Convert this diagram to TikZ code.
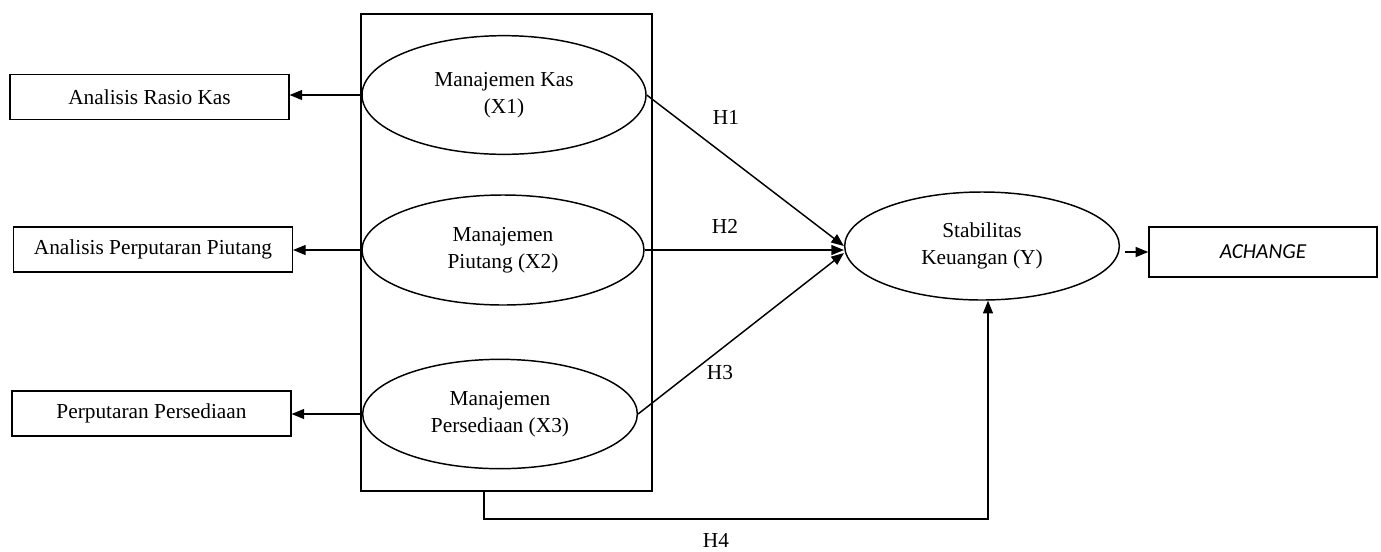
\documentclass[tikz,border=0pt]{standalone}
\usepackage{fontspec}
\setmainfont{Liberation Serif}
\newfontfamily\achfont{Carlito}
\usepackage{tikz}
\usetikzlibrary{shapes.geometric, arrows.meta}

\begin{document}
\begin{tikzpicture}[x=0.75pt, y=-0.75pt, font=\fontsize{16}{20}\selectfont,
    var/.style={draw, ellipse, line width=1.1pt, align=center, inner sep=0pt, minimum width=211pt, minimum height=83pt},
    ind/.style={draw, rectangle, line width=1.1pt, inner sep=0pt, minimum width=209pt, minimum height=34pt},
    arr/.style={-{Triangle[length=9.5pt,width=7.5pt]}, line width=1.1pt}]
    \useasboundingbox (0,0) rectangle (1381,551);

    % Kotak variabel X
    \node[draw, line width=1.1pt, inner sep=0pt, minimum width=218.25pt, minimum height=357.75pt] (frame) at (506.5,252.5) {};

    % Variabel
    \node[var, minimum width=213pt, minimum height=89pt] (x1) at (504,95) {Manajemen Kas\\(X1)};
    \node[var, minimum width=211.5pt, minimum height=82.5pt] (x2) at (503,250) {Manajemen\\Piutang (X2)};
    \node[var, minimum width=206pt, minimum height=82pt] (x3) at (500,414) {Manajemen\\Persediaan (X3)};
    \node[var, minimum width=206pt, minimum height=81pt] (stab) at (982,246) {Stabilitas\\Keuangan (Y)};

    % Indikator
    \node[ind] (rasio) at (149.5,97) {Analisis Rasio Kas};
    \node[ind] (piutang) at (153,249.5) {Analisis Perputaran Piutang};
    \node[ind] (sedia) at (151.5,413.5) {Perputaran Persediaan};
    \node[ind, minimum width=171pt, minimum height=37.5pt] (ach) at (1263,252) {\achfont\itshape ACHANGE};

    % Hipotesis
    \node (h1) at (726,117) {H1};
    \node (h2) at (725,226) {H2};
    \node (h3) at (720,373) {H3};
    \node (h4lbl) at (716,540) {H4};
    \coordinate (h4) at (484,519);

    % Panah
    \draw[arr] (x1.west) -- (x1.west -| rasio.east);
    \draw[arr] (x2.west) -- (x2.west -| piutang.east);
    \draw[arr] (x3.west) -- (x3.west -| sedia.east);
    \draw[arr] (x1.east) -- (stab.west);
    \draw[arr] (x2.east) -- (x2.east -| stab.west);
    \draw[arr] (x3.east) -- ([yshift=-5.25pt]stab.west);
    \draw[arr, shorten <=4pt] (stab.east |- ach.west) -- (ach.west);
    \draw[arr, line width=0.9pt] (h4 |- frame.south) -- (h4) -| ([xshift=4.5pt]stab.south);
\end{tikzpicture}
\end{document}
